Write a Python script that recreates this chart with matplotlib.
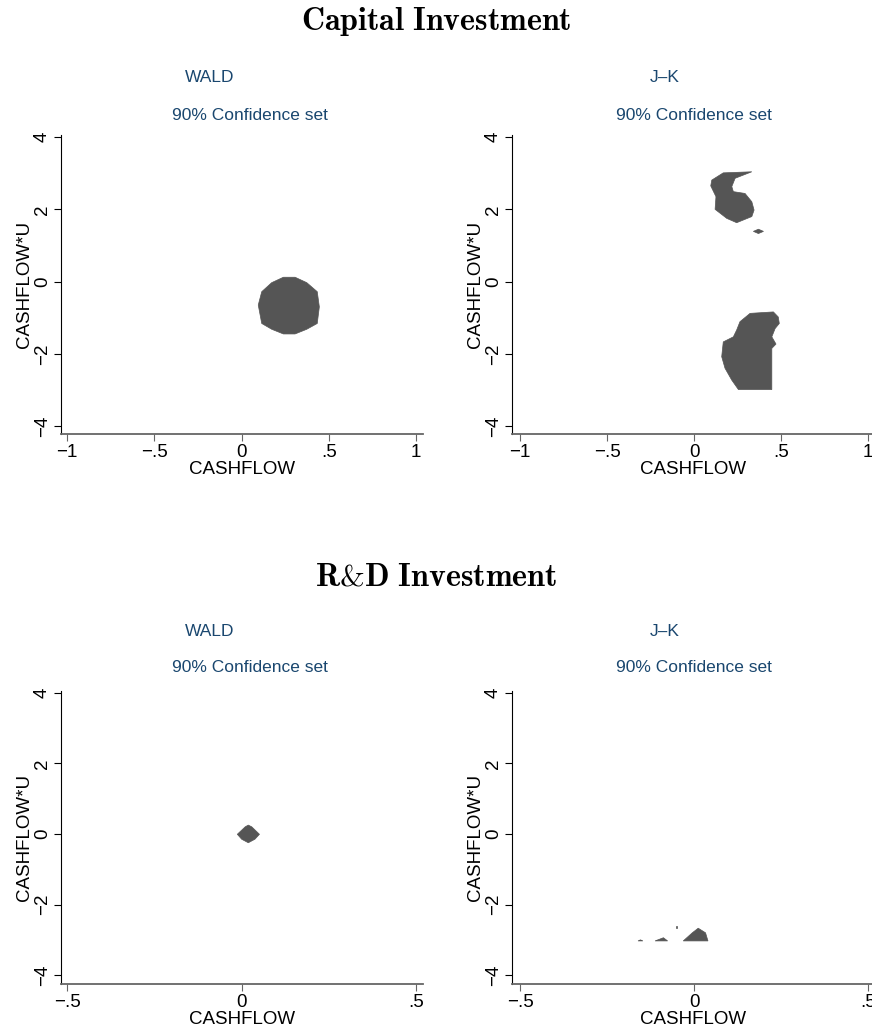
import matplotlib
matplotlib.use("Agg")
import matplotlib.pyplot as plt
from matplotlib.patches import Polygon

plt.rcParams['font.family'] = ['Liberation Sans', 'DejaVu Sans']
plt.rcParams['mathtext.fontset'] = 'cm'

# confidence set outlines (CASHFLOW, CASHFLOW*U)
cap_wald = [(0.240, 0.12), (0.307, 0.12), (0.374, -0.03), (0.434, -0.28),
            (0.446, -0.70), (0.434, -1.16), (0.374, -1.32), (0.307, -1.45),
            (0.240, -1.45), (0.173, -1.32), (0.116, -1.16), (0.096, -0.65),
            (0.116, -0.28), (0.173, -0.03)]

cap_jk_top = [(0.168, 3.01), (0.332, 3.04), (0.236, 2.86), (0.217, 2.63),
              (0.226, 2.49), (0.293, 2.44), (0.332, 2.21), (0.345, 1.98),
              (0.332, 1.80), (0.245, 1.63), (0.188, 1.75), (0.121, 2.00),
              (0.126, 2.35), (0.096, 2.65), (0.102, 2.81)]
cap_jk_dot = [(0.341, 1.39), (0.370, 1.45), (0.399, 1.39), (0.370, 1.33)]
cap_jk_low = [(0.322, -0.88), (0.456, -0.84), (0.484, -0.98), (0.490, -1.16),
              (0.466, -1.30), (0.447, -1.53), (0.471, -1.73), (0.447, -1.85),
              (0.447, -2.99), (0.255, -2.99), (0.217, -2.73), (0.178, -2.40),
              (0.159, -2.08), (0.168, -1.67), (0.226, -1.53), (0.245, -1.34),
              (0.264, -1.11)]

rd_wald = [(0.019, 0.25), (0.029, 0.20), (0.051, -0.01), (0.038, -0.15),
           (0.019, -0.25), (0.000, -0.15), (-0.0125, -0.01), (0.010, 0.20)]

rd_jk_a = [(-0.031, -3.03), (0.040, -3.03), (0.033, -2.80), (0.012, -2.67),
           (-0.005, -2.80)]
rd_jk_b = [(-0.112, -3.03), (-0.076, -3.03), (-0.088, -2.94)]
rd_jk_c = [(-0.161, -3.03), (-0.147, -3.03), (-0.154, -3.00)]
rd_jk_d = [(-0.053, -2.66), (-0.049, -2.66), (-0.049, -2.60), (-0.053, -2.60)]

xt_cap = [-1, -0.5, 0, 0.5, 1]
xl_cap = ['\u22121', '\u2212.5', '0', '.5', '1']
xt_rd = [-0.5, 0, 0.5]
xl_rd = ['\u2212.5', '0', '.5']
yt = [-4, -2, 0, 2, 4]
yl = ['\u22124', '\u22122', '0', '2', '4']

navy = '#1a476f'
fill = '#555555'
W, H = 872, 1034

fig = plt.figure(figsize=(8.72, 10.34), dpi=100)


def make_ax(x0, x1, ytop, ybot, xlim, ylim, xt, xl):
    ax = fig.add_axes([x0 / W, 1 - ybot / H, (x1 - x0) / W, (ybot - ytop) / H])
    ax.set_xlim(xlim)
    ax.set_ylim(ylim)
    for s in ['top', 'right']:
        ax.spines[s].set_visible(False)
    ax.spines['left'].set_color('black')
    ax.spines['bottom'].set_color('#666666')
    ax.spines['bottom'].set_linewidth(1.3)
    ax.set_xticks(xt)
    ax.set_xticklabels(xl)
    ax.set_yticks(yt)
    ax.set_yticklabels(yl, rotation=90, va='center')
    ax.tick_params(axis='both', direction='out', length=5, labelsize=13.5, pad=2)
    ax.tick_params(axis='x', color='#666666')
    ax.set_xlabel('CASHFLOW', fontsize=13.5, labelpad=0)
    ax.set_ylabel('CASHFLOW*U', fontsize=13.5, labelpad=1)
    return ax


def add_shapes(ax, shapes):
    for pts in shapes:
        ax.add_patch(Polygon(pts, closed=True, facecolor=fill, edgecolor=fill,
                             linewidth=0.5))


ax1 = make_ax(60.7, 423, 135.3, 434, (-1.036, 1.040), (-4.22, 4.05), xt_cap, xl_cap)
ax2 = make_ax(511.7, 875, 135.3, 434, (-1.048, 1.040), (-4.22, 4.05), xt_cap, xl_cap)
ax3 = make_ax(60.7, 423, 690.9, 984, (-0.519, 0.520), (-4.25, 4.05), xt_rd, xl_rd)
ax4 = make_ax(511.7, 875, 690.9, 984, (-0.524, 0.520), (-4.25, 4.05), xt_rd, xl_rd)

add_shapes(ax1, [cap_wald])
add_shapes(ax2, [cap_jk_top, cap_jk_dot, cap_jk_low])
add_shapes(ax3, [rd_wald])
add_shapes(ax4, [rd_jk_a, rd_jk_b, rd_jk_c, rd_jk_d])

# titles
fig.text(436 / W, 1 - 22 / H, r'$\mathbf{Capital\ Investment}$', fontsize=23,
         ha='center', va='center')
rd_title = fig.text(436 / W, 1 - 577 / H, r'$\mathbf{R&D\ Investment}$',
                    fontsize=23, ha='center', va='center')
try:
    fig.canvas.draw()
except ValueError:
    rd_title.set_text('R&D Investment')
    rd_title.set_fontfamily('DejaVu Serif')
    rd_title.set_fontweight('bold')

for yy in [77, 632]:
    fig.text(210 / W, 1 - yy / H, 'WALD', fontsize=12.5, color=navy,
             ha='center', va='center')
    fig.text(665 / W, 1 - yy / H, 'J\u2013K', fontsize=12.5, color=navy,
             ha='center', va='center')
for yy in [115, 668]:
    fig.text(250 / W, 1 - yy / H, '90% Confidence set', fontsize=12.5,
             color=navy, ha='center', va='center')
    fig.text(694 / W, 1 - yy / H, '90% Confidence set', fontsize=12.5,
             color=navy, ha='center', va='center')

fig.savefig('out.png', dpi=100)
